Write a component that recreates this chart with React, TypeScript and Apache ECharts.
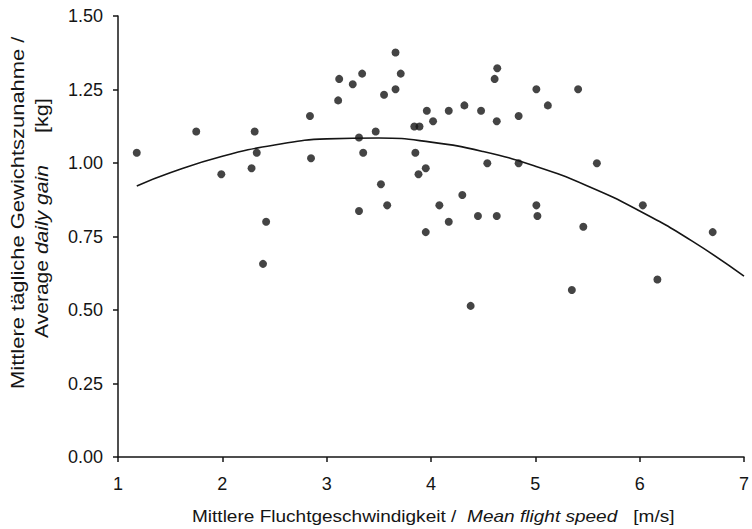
import React, { useEffect, useRef } from "react";
import * as echarts from "echarts";

const speed = [
  1.18, 1.75, 1.99, 2.28, 2.31, 2.33, 2.42, 2.39, 2.84, 2.85,
  3.11, 3.12, 3.25, 3.34, 3.31, 3.35, 3.31, 3.47, 3.52, 3.55,
  3.58, 3.66, 3.66, 3.71, 3.84, 3.89, 3.85, 3.88, 3.95, 3.96,
  3.95, 4.02, 4.17, 4.32, 4.48, 4.61, 4.635, 4.63, 4.84, 5.01,
  5.12, 5.41, 4.54, 4.84, 5.59, 4.3, 4.08, 5.01, 6.03, 4.17,
  4.45, 4.63, 5.02, 5.46, 6.7, 6.17, 5.35, 4.38,
];
const gain = [
  1.035, 1.107, 0.962, 0.982, 1.107, 1.035, 0.8, 0.657, 1.16, 1.016,
  1.213, 1.286, 1.268, 1.304, 1.087, 1.035, 0.837, 1.107, 0.928, 1.232,
  0.856, 1.376, 1.251, 1.304, 1.124, 1.124, 1.035, 0.962, 0.982, 1.178,
  0.765, 1.142, 1.178, 1.196, 1.178, 1.286, 1.322, 1.142, 1.16, 1.251,
  1.196, 1.251, 0.999, 0.999, 0.999, 0.891, 0.856, 0.856, 0.856, 0.8,
  0.82, 0.82, 0.82, 0.783, 0.765, 0.604, 0.568, 0.514,
];

// regression curve
const curveX = [1.18, 1.5, 2, 2.5, 3, 3.5, 4, 4.5, 5, 5.5, 6, 6.5, 7];
const curveY = [0.922, 0.967, 1.023, 1.061, 1.082, 1.085, 1.071, 1.039, 0.989, 0.922, 0.837, 0.735, 0.615];

const xTicks = ["1", "2", "3", "4", "5", "6", "7"];
const yTicks = ["0.00", "0.25", "0.50", "0.75", "1.00", "1.25", "1.50"];

const FONT = "'Liberation Sans', Arial, Helvetica, sans-serif";
const INK = "#151515";

export default function App() {
  const ref = useRef<HTMLDivElement>(null);
  useEffect(() => {
    if (!ref.current) return;
    const chart = echarts.init(ref.current, null, { renderer: "svg" });
    const axisLine = { show: true, lineStyle: { color: INK, width: 1.5 } };
    const axisTick = { show: true, inside: false, length: 5, lineStyle: { color: INK, width: 1.5 } };
    const rich = {
      n: { fontSize: 17, fontFamily: FONT, fill: INK },
      i: { fontSize: 17, fontFamily: FONT, fill: INK, fontStyle: "italic" },
    };
    const richY = {
      n: { fontSize: 18, fontFamily: FONT, fill: INK },
      i: { fontSize: 18, fontFamily: FONT, fill: INK, fontStyle: "italic" },
    };
    chart.setOption({
      animation: false,
      backgroundColor: "#ffffff",
      grid: { left: 118, right: 5, top: 16, bottom: 72, containLabel: false },
      xAxis: {
        type: "value",
        min: 1,
        max: 7,
        interval: 1,
        axisLine,
        axisTick,
        splitLine: { show: false },
        axisLabel: {
          margin: 18,
          fontSize: 18,
          fontFamily: FONT,
          color: INK,
          formatter: (v: number) => xTicks[Math.round(v) - 1] ?? "",
        },
      },
      yAxis: {
        type: "value",
        min: 0,
        max: 1.5,
        interval: 0.25,
        axisLine,
        axisTick,
        splitLine: { show: false },
        axisLabel: {
          margin: 15,
          fontSize: 18,
          fontFamily: FONT,
          color: INK,
          formatter: (v: number) => yTicks[Math.round(v / 0.25)] ?? "",
        },
      },
      series: [
        {
          type: "scatter",
          data: speed.map((x, i) => [x, gain[i]]),
          symbol: "circle",
          symbolSize: 8,
          itemStyle: { color: INK },
          z: 3,
        },
        {
          type: "line",
          data: curveX.map((x, i) => [x, curveY[i]]),
          smooth: true,
          showSymbol: false,
          symbol: "none",
          lineStyle: { color: INK, width: 1.6 },
          z: 2,
        },
      ],
      graphic: [
        {
          type: "text",
          x: 192,
          y: 516,
          scaleX: 1.12,
          style: {
            text: "{n|Mittlere Fluchtgeschwindigkeit /  }{i|Mean flight speed}{n|   [m/s]}",
            rich,
            align: "left",
            verticalAlign: "middle",
          },
        },
        {
          type: "text",
          x: 18,
          y: 389,
          rotation: Math.PI / 2,
          scaleX: 1.22,
          style: {
            text: "Mittlere tägliche Gewichtszunahme /",
            fontSize: 18,
            fontFamily: FONT,
            fill: INK,
            align: "left",
            verticalAlign: "middle",
          },
        },
        {
          type: "text",
          x: 42,
          y: 338,
          rotation: Math.PI / 2,
          scaleX: 1.17,
          style: {
            text: "{n|Average }{i|daily gain}",
            rich: richY,
            align: "left",
            verticalAlign: "middle",
          },
        },
        {
          type: "text",
          x: 42,
          y: 133,
          rotation: Math.PI / 2,
          scaleX: 1.2,
          style: {
            text: "[kg]",
            fontSize: 18,
            fontFamily: FONT,
            fill: INK,
            align: "left",
            verticalAlign: "middle",
          },
        },
      ],
    });
    return () => chart.dispose();
  }, []);
  return (
    <div
      ref={ref}
      style={{ position: "fixed", left: 0, top: 0, width: 752, height: 529, background: "#fff" }}
    />
  );
}
